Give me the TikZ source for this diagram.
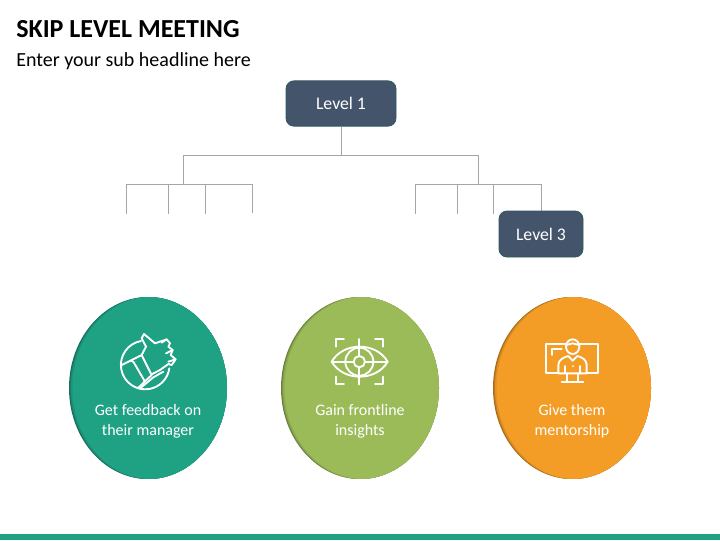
\documentclass[tikz,border=0pt]{standalone}
\usepackage{fontspec}
\setmainfont{Carlito}
\definecolor{slatec}{HTML}{44546A}
\definecolor{slateb}{HTML}{2F5A5E}
\definecolor{linec}{HTML}{A6A6A6}
\definecolor{tealc}{HTML}{1FA184}
\definecolor{greenc}{HTML}{9BBB59}
\definecolor{orangec}{HTML}{F39C26}
\tikzset{
  levelbox/.style={draw=slateb,line width=.6pt,fill=slatec,rounded corners=6pt,text=white,font=\fontsize{13.3}{16}\selectfont,align=center,inner sep=0pt},
  wire/.style={draw=linec,line width=.75pt},
  icon/.style={draw=white,line width=1.4pt,line cap=round,line join=round},
  blobtext/.style={text=white,font=\fontsize{12}{15}\selectfont,align=center,inner sep=0pt},
  toptitle/.style={anchor=west,inner sep=0pt,text=black},
}
\newcommand{\blob}[3]{%
  \begin{scope}
    \clip (#1,388) ellipse [x radius=79,y radius=91];
    \fill[#2!68!black] (#1,388) ellipse [x radius=79,y radius=91];
    \fill[#2!80!black] (#1+1,388) ellipse [x radius=79,y radius=91];
    \fill[#2!92!black] (#1+2,388) ellipse [x radius=79,y radius=91];
    \fill[#2] (#1+3.5,388) ellipse [x radius=79,y radius=91];
  \end{scope}
  \coordinate (#3) at (#1,388);
}
\begin{document}
\begin{tikzpicture}[x=.75pt,y=-.75pt]
\useasboundingbox (0,0) rectangle (720,540);
\fill[white] (0,0) rectangle (720,540);
\fill[tealc] (0,534) rectangle (720,540);

\node[toptitle,font=\bfseries\fontsize{19.5}{23}\selectfont] (title) at (16,29) {SKIP LEVEL MEETING};
\node[toptitle,font=\fontsize{15}{18}\selectfont] (sub) at (16,61.5) {Enter your sub headline here};

% tree
\coordinate (hub) at (341,155);
\coordinate (hl) at (183,155);
\coordinate (hr) at (478,155);
\coordinate (lm) at (183,184);
\coordinate (rm) at (478,184);
\coordinate (la) at (126,184); \coordinate (lb) at (168,184); \coordinate (lc) at (205,184); \coordinate (ld) at (252,184);
\coordinate (ra) at (415,184); \coordinate (rb) at (457,184); \coordinate (rc) at (493,184); \coordinate (rd) at (541,184);
\coordinate (lae) at (126,214); \coordinate (lbe) at (168,214); \coordinate (lce) at (205,214); \coordinate (lde) at (252,213);
\coordinate (rae) at (415,214); \coordinate (rbe) at (457,214); \coordinate (rce) at (493,214);

\node[levelbox,minimum width=82.5pt,minimum height=34pt] (l1) at (341,103.5) {Level 1};
\draw[wire] (hl) -- (hr);
\draw[wire] (l1.south) -- (hub);
\draw[wire] (hl) -- (lm);
\draw[wire] (hr) -- (rm);
\draw[wire] (la) -- (ld);
\draw[wire] (ra) -- (rd);
\draw[wire] (la) -- (lae);
\draw[wire] (lb) -- (lbe);
\draw[wire] (lc) -- (lce);
\draw[wire] (ld) -- (lde);
\draw[wire] (ra) -- (rae);
\draw[wire] (rb) -- (rbe);
\draw[wire] (rc) -- (rce);
\coordinate (rde) at (541,212);
\draw[wire] (rd) -- (rde);
\node[levelbox,minimum width=63pt,minimum height=34.5pt] (l3) at (541,234) {Level 3};

% ellipses
\blob{148}{tealc}{c1}
\blob{360}{greenc}{c2}
\blob{572}{orangec}{c3}

\node[blobtext] (t1) at (148,421) {Get feedback on\\their manager};
\node[blobtext] (t2) at (360,421) {Gain frontline\\insights};
\node[blobtext] (t3) at (572,421) {Give them\\mentorship};

% thumb icon
\begin{scope}[shift={(60,290)},x=.25pt,y=-.25pt]
  \draw[icon] (243,153) arc[start angle=260,end angle=8,radius=73];
  \draw[icon] (185,225) -- (245,195) -- (258,170) -- (245,145) -- (252,132) -- (285,160) -- (320,148) -- (330,160) -- (325,170) -- (338,180) -- (332,195) -- (347,208) -- (335,225) -- (325,222) -- (300,240) -- (275,253);
  \draw[icon] (245,195) -- (275,255) -- (235,293);
  \draw[icon] (212,212) -- (220,215) -- (255,275);
  \draw[icon] (240,295) -- (280,262) -- (310,245);
  \draw[icon] (320,148) -- (305,158);
  \draw[icon] (338,180) -- (318,190);
  \draw[icon] (347,208) -- (325,215);
\end{scope}

% eye icon
\begin{scope}[shift={(320,325)},x=.25pt,y=-.25pt]
  \draw[icon] (35,110) .. controls (70,50) and (168,50) .. (203,110) .. controls (168,170) and (70,170) .. (35,110) -- cycle;
  \draw[icon] (118,110) circle [radius=42];
  \draw[icon] (118,110) circle [radius=17];
  \draw[icon] (118,42) -- (118,92);
  \draw[icon] (118,128) -- (118,178);
  \draw[icon] (35,110) -- (100,110);
  \draw[icon] (136,110) -- (203,110);
  \draw[icon] (48,65) -- (48,42) -- (72,42);
  \draw[icon] (165,42) -- (190,42) -- (190,65);
  \draw[icon] (48,155) -- (48,178) -- (72,178);
  \draw[icon] (165,178) -- (190,178) -- (190,155);
\end{scope}

% monitor and person icon
\begin{scope}[shift={(535,330)},x=.25pt,y=-.25pt]
  \draw[icon] (95,43) -- (32,43) -- (32,130) -- (70,130);
  \draw[icon] (132,43) -- (190,43) -- (190,130) -- (155,130);
  \draw[icon] (50,75) -- (50,57) -- (80,57);
  \draw[icon] (113,50) ellipse [x radius=20,y radius=22];
  \draw[icon] (93,45) -- (113,40) -- (133,45);
  \draw[icon] (70,130) -- (70,105) .. controls (70,90) and (85,82) .. (100,78) -- (113,92) -- (127,78) .. controls (142,82) and (155,90) .. (155,105) -- (155,130) -- (70,130);
  \draw[icon] (90,130) -- (90,108);
  \draw[icon] (136,130) -- (136,108);
  \draw[icon] (113,108) -- (113,108.5);
  \draw[icon] (95,130) -- (95,155);
  \draw[icon] (130,130) -- (130,155);
  \draw[icon] (80,155) -- (145,155);
\end{scope}
\end{tikzpicture}
\end{document}
